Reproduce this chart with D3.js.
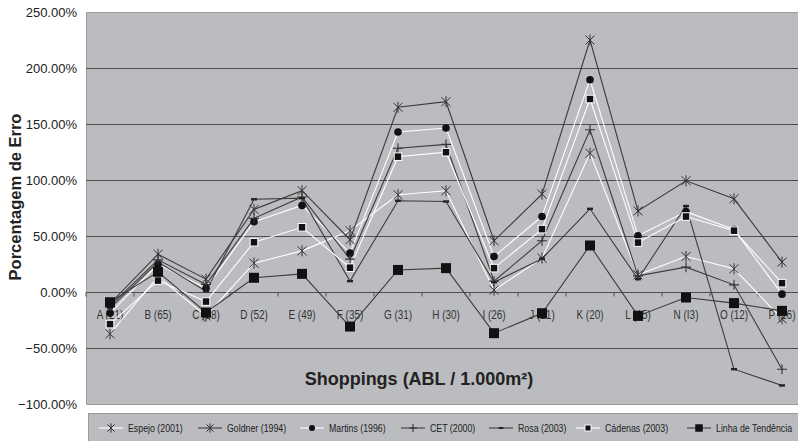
<!DOCTYPE html>
<html>
<head>
<meta charset="utf-8">
<script src="https://cdn.jsdelivr.net/npm/d3@7"></script>
<style>
  body { margin: 0; background: #fff; }
  svg { display: block; }
  text { font-family: "Liberation Sans", Arial, sans-serif; }
</style>
</head>
<body>
<svg id="chart" width="798" height="441"></svg>
<script>
var categories = ['A (21)', 'B (65)', 'C (58)', 'D (52)', 'E (49)', 'F (35)', 'G (31)', 'H (30)',
  'I (26)', 'J (21)', 'K (20)', 'L (15)', 'N (I3)', 'O (12)', 'P (16)'];

var yTicks = [-100, -50, 0, 50, 100, 150, 200, 250];

var espejo  = [-37, 14, -21, 26, 37, 55, 87, 90.6, 2, 30.5, 124, 15.6, 32, 21, -23.6];
var goldner = [-10, 34, 11.8, 74, 90.7, 47, 165, 170, 46, 87.6, 225, 72.6, 99.5, 83.4, 27];
var martins = [-18.5, 25, 3.7, 63, 77.5, 35, 143, 146.5, 32, 67.7, 189.6, 50.4, 72, 56, -1.6];
var cet     = [-12, 29, 7, 66, 85, 29.6, 128.5, 132, 10, 46, 145, 14.7, 22.5, 6.7, -68.5];
var rosa    = [-14, 27, 1, 83, 84, 10, 81.7, 81, 9, 30, 74.5, 11.8, 77, -68.5, -83];
var cadenas = [-28.3, 10.5, -8.2, 44.7, 58, 22, 121, 125, 21.6, 56.4, 172.4, 44.4, 67.6, 55, 8.2];
var linha   = [-8.8, 18.3, -18, 13, 16.5, -30.5, 20, 21.6, -36.4, -18.6, 41.8, -21, -4.6, -9.6, -16.5];

var seriesNames = ['Espejo (2001)', 'Goldner (1994)', 'Martins (1996)', 'CET (2000)',
  'Rosa (2003)', 'Cádenas (2003)', 'Linha de Tendência'];

var dark = '#3c3c3c';
var series = [
  { name: seriesNames[0], values: espejo,  line: '#ffffff', marker: 'star' },
  { name: seriesNames[1], values: goldner, line: dark,      marker: 'star' },
  { name: seriesNames[2], values: martins, line: '#ffffff', marker: 'circle' },
  { name: seriesNames[3], values: cet,     line: dark,      marker: 'plus' },
  { name: seriesNames[4], values: rosa,    line: dark,      marker: 'dash' },
  { name: seriesNames[5], values: cadenas, line: '#ffffff', marker: 'square' },
  { name: seriesNames[6], values: linha,   line: dark,      marker: 'bigsquare' }
];

var W = 798;
var svg = d3.select('#chart');
var plot = { left: 86, right: 806, top: 12, bottom: 404.5 };

var x = d3.scaleBand().domain(categories).range([plot.left, plot.right]).padding(0);
var y = d3.scaleLinear().domain([-100, 250]).range([plot.bottom, plot.top]);
function cx(c) { return x(c) + x.bandwidth() / 2; }

// plot background (the area runs off the right edge of the picture)
svg.append('rect')
  .attr('x', plot.left).attr('y', plot.top)
  .attr('width', W - plot.left).attr('height', plot.bottom - plot.top)
  .attr('fill', '#bbbcc0');
svg.append('path')
  .attr('d', 'M' + W + ',' + (plot.top + 0.5) + 'H' + (plot.left + 0.5) +
    'V' + (plot.bottom) + 'H' + W)
  .attr('fill', 'none').attr('stroke', '#9a9a9a');

// grid lines
svg.append('g').selectAll('line')
  .data(yTicks.filter(function(d) { return d > -100 && d < 250; }))
  .enter().append('line')
  .attr('x1', plot.left).attr('x2', W)
  .attr('y1', function(d) { return Math.round(y(d)) + 0.5; })
  .attr('y2', function(d) { return Math.round(y(d)) + 0.5; })
  .attr('stroke', '#4e4e4e').attr('stroke-width', 1.2);

// y axis labels
var yAxis = d3.axisLeft(y).tickValues(yTicks).tickSize(0).tickPadding(9)
  .tickFormat(function(d) { return d3.format('.2f')(d) + '%'; });
var gy = svg.append('g').attr('transform', 'translate(' + plot.left + ',0)').call(yAxis);
gy.select('.domain').remove();
gy.selectAll('text')
  .attr('font-size', 13).attr('fill', '#222')
  .attr('font-family', '"Liberation Sans", Arial, sans-serif');

// x axis along the zero line
var xAxis = d3.axisBottom(x).tickSize(4).tickPadding(14);
var gx = svg.append('g').attr('transform', 'translate(0,' + (Math.round(y(0)) + 0.5) + ')').call(xAxis);
gx.select('.domain').remove();
gx.selectAll('.tick line')
  .attr('transform', 'translate(' + (-x.bandwidth() / 2) + ',0)')
  .attr('stroke', '#4e4e4e');
gx.selectAll('text')
  .attr('font-size', 12).attr('fill', '#333')
  .attr('font-family', '"Liberation Sans", Arial, sans-serif')
  .attr('transform', 'scale(0.83,1)');   // narrow look

// axis titles
svg.append('text')
  .attr('transform', 'translate(21,197) rotate(-90)')
  .attr('text-anchor', 'middle')
  .attr('font-size', 16.5).attr('font-weight', 'bold').attr('fill', '#222')
  .text('Porcentagem de Erro');

svg.append('text')
  .attr('x', 419).attr('y', 385)
  .attr('text-anchor', 'middle')
  .attr('font-size', 18).attr('font-weight', 'bold').attr('fill', '#222')
  .text('Shoppings (ABL / 1.000m²)');

// markers
function drawMarker(g, type, px, py, scale) {
  var s = scale || 1;
  if (type === 'star') {
    var r = 4.5 * s;
    g.append('path')
      .attr('d', 'M' + (px - r) + ',' + (py - r) + 'L' + (px + r) + ',' + (py + r) +
        'M' + (px - r) + ',' + (py + r) + 'L' + (px + r) + ',' + (py - r) +
        'M' + px + ',' + (py - r - 1) + 'L' + px + ',' + (py + r + 1))
      .attr('stroke', '#333').attr('stroke-width', 1).attr('fill', 'none');
  } else if (type === 'circle') {
    g.append('circle').attr('cx', px).attr('cy', py).attr('r', 3.8 * s).attr('fill', '#111');
  } else if (type === 'plus') {
    var p = 5 * s;
    g.append('path')
      .attr('d', 'M' + (px - p) + ',' + py + 'L' + (px + p) + ',' + py +
        'M' + px + ',' + (py - p) + 'L' + px + ',' + (py + p))
      .attr('stroke', '#333').attr('stroke-width', 1.1).attr('fill', 'none');
  } else if (type === 'dash') {
    g.append('rect').attr('x', px - 3 * s).attr('y', py - 1.2 * s)
      .attr('width', 6 * s).attr('height', 2.4 * s).attr('fill', '#222');
  } else if (type === 'square') {
    g.append('rect').attr('x', px - 3.8 * s).attr('y', py - 3.8 * s)
      .attr('width', 7.6 * s).attr('height', 7.6 * s)
      .attr('fill', '#111').attr('stroke', '#fff').attr('stroke-width', 1);
  } else if (type === 'bigsquare') {
    g.append('rect').attr('x', px - 5 * s).attr('y', py - 5 * s)
      .attr('width', 10 * s).attr('height', 10 * s).attr('fill', '#111');
  }
}

var line = d3.line()
  .x(function(d, i) { return cx(categories[i]); })
  .y(function(d) { return y(d); });

var lines = svg.append('g');
series.forEach(function(s) {
  lines.append('path')
    .attr('d', line(s.values))
    .attr('fill', 'none').attr('stroke', s.line).attr('stroke-width', 1.1);
});
series.forEach(function(s) {
  var g = lines.append('g');
  s.values.forEach(function(v, i) {
    drawMarker(g, s.marker, cx(categories[i]), y(v));
  });
});

// legend
var legend = svg.append('g');
legend.append('rect')
  .attr('x', 88).attr('y', 413).attr('width', W - 88).attr('height', 28)
  .attr('fill', '#bbbcc0');
legend.append('path')
  .attr('d', 'M' + W + ',413.5H88.5V441')
  .attr('fill', 'none').attr('stroke', '#9a9a9a');

var legendX = [99, 198, 300, 401, 489, 576, 687];
series.forEach(function(s, i) {
  var lx = legendX[i], ly = 428;
  legend.append('line')
    .attr('x1', lx).attr('x2', lx + 24).attr('y1', ly).attr('y2', ly)
    .attr('stroke', s.line).attr('stroke-width', 1.1);
  drawMarker(legend, s.marker, lx + 12, ly, s.marker === 'bigsquare' ? 0.75 : 0.8);
  legend.append('text')
    .attr('transform', 'translate(' + (lx + 29) + ',' + (ly + 4) + ') scale(0.8,1)')
    .attr('font-size', 11).attr('fill', '#222')
    .text(s.name);
});
</script>
</body>
</html>
